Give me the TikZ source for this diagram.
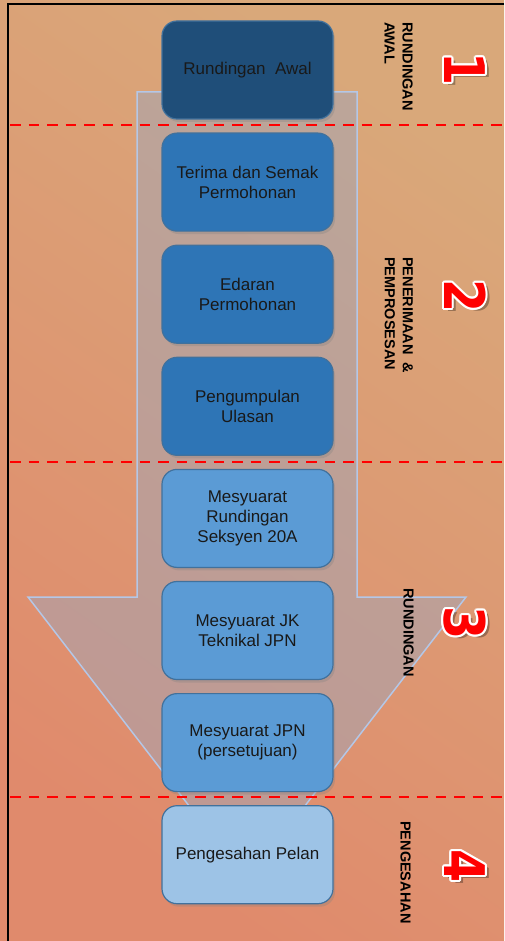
\documentclass[tikz,border=0pt]{standalone}
\usepackage{fontspec}
\setmainfont{Liberation Sans}
\newfontfamily\numfont{DejaVu Sans}
\usetikzlibrary{positioning,shadows}

\definecolor{darkbox}{RGB}{31,78,121}
\definecolor{midbox}{RGB}{46,117,182}
\definecolor{lightbox}{RGB}{91,155,213}
\definecolor{palebox}{RGB}{157,195,230}
\definecolor{boxedge}{RGB}{65,113,156}
\definecolor{bgtop}{RGB}{217,168,122}
\definecolor{bgbottom}{RGB}{224,138,108}
\definecolor{arrowfill}{RGB}{160,165,185}
\definecolor{arrowedge}{RGB}{180,199,231}

\tikzset{
  stage/.style={draw=boxedge, line width=1.2pt, rounded corners=15pt,
    minimum width=171pt, minimum height=98pt, align=center, text=black!90,
    font=\fontsize{17}{20}\selectfont,
    drop shadow={opacity=0.3, shadow xshift=2pt, shadow yshift=-3pt}},
  phase/.style={rotate=-90, anchor=north west, inner sep=0pt, align=left,
    font=\fontsize{14.5}{18}\selectfont\bfseries},
  cutline/.style={red, line width=2.8pt, dash pattern=on 10.5pt off 8pt},
  num/.style={rotate=-90, inner sep=0pt, font=\fontsize{56}{60}\selectfont\numfont\bfseries},
}

\begin{document}
\begin{tikzpicture}[x=1pt, y=-1pt, node distance=12.9pt]
    \useasboundingbox (0,0) rectangle (504,941);

    % background
    \shade[top color=bgtop, bottom color=bgbottom, shading angle=-35] (0,0) rectangle (504,941);
    \draw[line width=1.2pt] (504,4) -- (8,4) -- (8,941);

    % big arrow
    \filldraw[fill=arrowfill, fill opacity=0.5, draw=arrowedge, line width=1.5pt, line join=miter]
        (137,92) -- (357,92) -- (357,597) -- (466,597) -- (247,881)
        -- (28,597) -- (137,597) -- cycle;

    % phase borders
    \foreach \y in {125,462,797} \draw[cutline] (10,\y) -- (504,\y);

    % stages
    \node[stage, fill=darkbox] (rundingan) at (247.5,70) {Rundingan\ \ Awal};
    \node[stage, fill=midbox, below=of rundingan] (terima) {Terima dan Semak\\Permohonan};
    \node[stage, fill=midbox, below=of terima] (edaran) {Edaran\\Permohonan};
    \node[stage, fill=midbox, below=of edaran] (ulasan) {Pengumpulan\\Ulasan};
    \node[stage, fill=lightbox, below=of ulasan] (seksyen) {Mesyuarat\\Rundingan\\Seksyen 20A};
    \node[stage, fill=lightbox, below=of seksyen] (teknikal) {Mesyuarat JK\\Teknikal JPN};
    \node[stage, fill=lightbox, below=of teknikal] (persetujuan) {Mesyuarat JPN\\(persetujuan)};
    \node[stage, fill=palebox, below=of persetujuan] (pengesahan) {Pengesahan Pelan};

    % phase names
    \node[phase] (p1) at (413,22) {RUNDINGAN\\AWAL};
    \node[phase] (p2) at (413,257) {PENERIMAAN\ \ \&\\PEMPROSESAN};
    \node[phase] (p3) at (414,588) {RUNDINGAN};
    \node[phase] (p4) at (411,821) {PENGESAHAN};

    % phase numbers
    \foreach \d/\y in {1/69,2/296,3/623,4/866}{
        \node[num, text=black, opacity=0.3] at (469,\y+3) {\scalebox{0.85}[1]{\d}};
        \foreach \a in {0,30,...,330}
            \node[num, text=white, xshift={2pt*cos(\a)}, yshift={2pt*sin(\a)}] at (465,\y) {\scalebox{0.85}[1]{\d}};
        \node[num, text=red] (n\d) at (465,\y) {\scalebox{0.85}[1]{\d}};
    }
\end{tikzpicture}
\end{document}
